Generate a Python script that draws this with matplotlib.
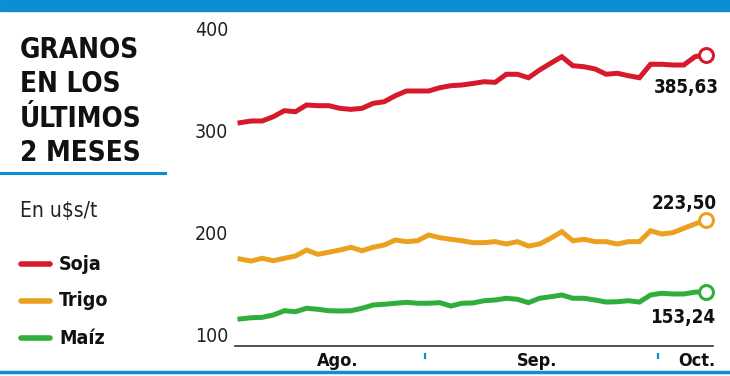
import numpy as np
import matplotlib.pyplot as plt
from matplotlib.lines import Line2D
from matplotlib import font_manager

# data (u$s/t), daily, Aug - early Oct
soja = [318.9, 320.6, 320.6, 324.8, 330.7, 329.7, 336.3, 335.6, 335.6, 333.0,
        332.0, 333.0, 337.9, 339.5, 345.4, 350.0, 350.0, 350.0, 353.2, 355.2,
        355.9, 357.4, 359.1, 358.5, 366.4, 366.4, 363.0, 370.6, 377.2, 383.6,
        374.8, 373.8, 371.6, 366.4, 367.4, 365.0, 363.0, 376.2, 376.2, 375.5,
        375.5, 383.6, 385.63]
trigo = [185.3, 183.3, 186.0, 183.6, 186.0, 188.2, 194.1, 189.9, 191.9, 194.1,
         196.8, 193.4, 196.8, 199.0, 203.9, 202.3, 203.2, 208.8, 206.2, 204.6,
         203.2, 201.3, 201.3, 202.3, 200.0, 202.3, 198.0, 200.0, 205.6, 212.1,
         203.2, 204.6, 202.3, 202.3, 200.0, 202.3, 202.3, 213.0, 209.8, 211.1,
         215.4, 219.6, 223.50]
maiz = [126.5, 127.7, 128.1, 130.4, 134.6, 133.6, 137.0, 136.0, 134.6, 134.3,
        134.6, 137.0, 140.2, 140.9, 141.9, 142.8, 141.9, 141.9, 142.5, 139.2,
        141.9, 142.2, 144.4, 145.1, 146.8, 145.8, 142.5, 146.8, 148.3, 150.0,
        146.8, 146.8, 145.1, 143.1, 143.4, 144.4, 143.1, 150.0, 151.7, 151.0,
        151.0, 152.8, 153.24]
series_names = ["Soja", "Trigo", "Maíz"]
end_labels = ["385,63", "223,50", "153,24"]
months = ["Ago.", "Sep.", "Oct."]
yticks = [100, 200, 300, 400]

RED, ORANGE, GREEN = "#d71a2b", "#eba11f", "#2fae3c"
BLUE = "#0b8fd1"
colors = [RED, ORANGE, GREEN]


# look for a condensed / narrow face, else plain DejaVu at smaller size
def find_font(bold):
    want = 700 if bold else 400
    best = None
    for f in font_manager.fontManager.ttflist:
        n = (f.name + " " + f.fname).lower()
        narrow = ("condensed" in n or "narrow" in n or f.stretch in ("condensed", "semi-condensed"))
        if not narrow or "italic" in n or "oblique" in n:
            continue
        w = f.weight if isinstance(f.weight, int) else (700 if "bold" in str(f.weight) else 400)
        if (w >= 600) == bold:
            if best is None or abs(w - want) < abs(best[0] - want):
                best = (w, f.fname)
    return best[1] if best else None


bold_file = find_font(True)
reg_file = find_font(False)
if bold_file:
    bold_fp = font_manager.FontProperties(fname=bold_file)
    scale = 1.0
else:
    bold_fp = font_manager.FontProperties(family="DejaVu Sans", weight="bold")
    scale = 0.85
reg_fp = font_manager.FontProperties(fname=reg_file) if reg_file else \
    font_manager.FontProperties(family="DejaVu Sans")

W, H = 730, 376
fig = plt.figure(figsize=(W / 100, H / 100), dpi=100)


def fx(px):
    return px / W


def fy(py):
    return 1 - py / H


# axes: x 235..713 px, y 40 (400) .. 346 (100) px
ax = fig.add_axes([fx(235), fy(346), fx(713 - 235), (346 - 40) / H])
x = np.arange(len(soja))
ax.set_xlim(-0.45, 42.63)
ax.set_ylim(100, 400)

for vals, c in zip([soja, trigo, maiz], colors):
    ax.plot(x, vals, color=c, lw=3.6, solid_joinstyle="miter", clip_on=False, zorder=3)
    ax.plot(x[-1], vals[-1], "o", ms=10, mfc="white", mec=c, mew=2.2, clip_on=False, zorder=4)

for s in ["top", "right", "left"]:
    ax.spines[s].set_visible(False)
ax.spines["bottom"].set_color("#333333")
ax.spines["bottom"].set_linewidth(1.2)

ax.set_yticks(yticks)
ax.set_yticklabels([str(v) for v in yticks], color="#222222", fontproperties=reg_fp, fontsize=14)
for lbl in ax.get_yticklabels():
    lbl.set_va("bottom")
ax.tick_params(axis="y", length=0, pad=5)

# month labels and separators
ax.set_xticks([8.8, 26.8, 41.2])
ax.set_xticklabels(months, fontproperties=bold_fp, fontsize=13 * scale, color="#111111")
ax.tick_params(axis="x", length=0, pad=4)
for sep in [16.67, 37.66]:
    ax.plot([sep, sep], [88, 92], color=BLUE, lw=1.6, clip_on=False)

# end value labels
label_pos = [(719, 87), (717, 203), (715, 317)]
for txt, (px, py) in zip(end_labels, label_pos):
    fig.text(fx(px), fy(py), txt, ha="right", va="center", fontproperties=bold_fp,
             fontsize=13.5 * scale, color="#111111")

# blue rules
fig.patches.append(plt.Rectangle((0, fy(11)), 1, 11 / H, transform=fig.transFigure,
                                 color=BLUE, zorder=0))
fig.add_artist(Line2D([0, fx(165)], [fy(173), fy(173)], color=BLUE, lw=2.2))
fig.add_artist(Line2D([0, 1], [fy(372), fy(372)], color=BLUE, lw=2.5))

title_lines = ["GRANOS", "EN LOS", "ÚLTIMOS", "2 MESES"]
for i, t in enumerate(title_lines):
    fig.text(fx(20), fy(58 + i * 34.3), t, ha="left", va="baseline", fontproperties=bold_fp,
             fontsize=20 * scale, color="#111111")

fig.text(fx(20), fy(211), "En u$s/t", ha="left", va="center", fontproperties=reg_fp,
         fontsize=15, color="#222222")

for i, (name, c) in enumerate(zip(series_names, colors)):
    yy = fy(264 + i * 37)
    fig.add_artist(Line2D([fx(21), fx(50)], [yy, yy], color=c, lw=4, solid_capstyle="round"))
    fig.text(fx(59), yy, name, ha="left", va="center", fontproperties=bold_fp,
             fontsize=14 * scale, color="#111111")

fig.savefig("out.png", dpi=100)
